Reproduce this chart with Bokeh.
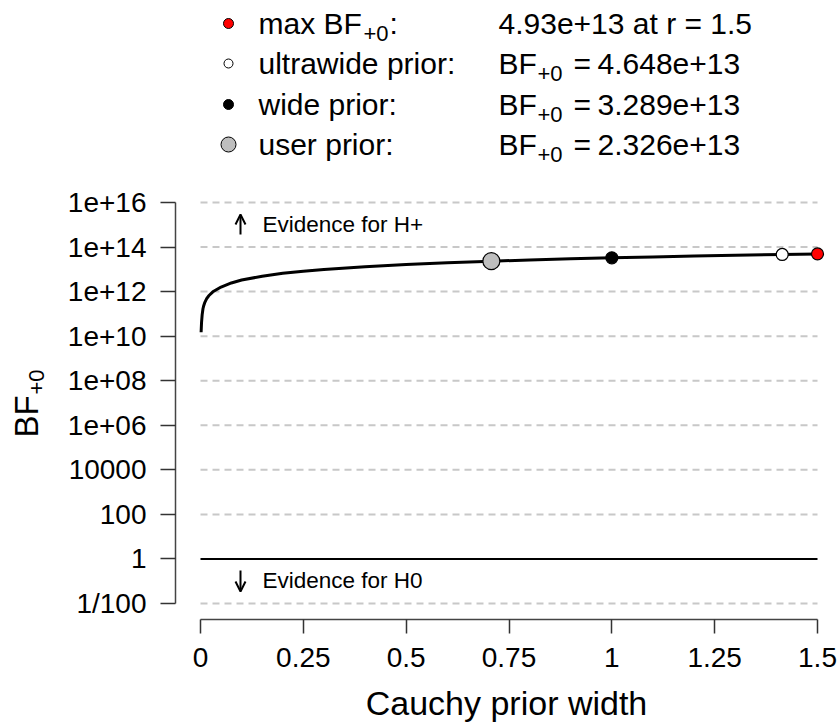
import math
from bokeh.plotting import figure
from bokeh.layouts import row
from bokeh.models import Range1d, FixedTicker, Arrow, OpenHead
from bokeh.core.properties import value
from bokeh.embed import file_html
from bokeh.resources import INLINE

# ---------------- data ----------------
r_grid = [0.0015, 0.0025, 0.004, 0.006, 0.008, 0.01, 0.015, 0.02, 0.03, 0.05,
          0.075, 0.1, 0.15, 0.2, 0.25, 0.3, 0.4, 0.5, 0.6, 0.7071, 0.8, 0.9,
          1.0, 1.1, 1.2, 1.3, 1.4142, 1.5]
bf_curve = [1.5e10, 4.0e10, 9.0e10, 1.7e11, 2.4e11, 3.1e11, 4.8e11, 6.5e11,
            9.8e11, 1.6e12, 2.45e12, 3.3e12, 4.9e12, 6.6e12, 8.2e12, 9.9e12,
            1.31e13, 1.64e13, 1.97e13, 2.326e13, 2.63e13, 2.96e13, 3.289e13,
            3.62e13, 3.95e13, 4.27e13, 4.648e13, 4.93e13]

point_names = ["max", "ultrawide prior", "wide prior", "user prior"]
point_r = [1.5, 1.4142, 1.0, 0.7071]
point_bf = [4.93e13, 4.648e13, 3.289e13, 2.326e13]
point_fill = ["red", "white", "black", "#BEBEBE"]
point_size = [12, 12, 12, 17]

legend_labels = ["max BF", "ultrawide prior:", "wide prior:", "user prior:"]
legend_values = ["4.93e+13 at r = 1.5", "4.648e+13", "3.289e+13", "2.326e+13"]

x_ticks = [0, 0.25, 0.5, 0.75, 1.0, 1.25, 1.5]
x_tick_labels = ["0", "0.25", "0.5", "0.75", "1", "1.25", "1.5"]
y_ticks = [-2, 0, 2, 4, 6, 8, 10, 12, 14, 16]
y_tick_labels = ["1/100", "1", "100", "10000", "1e+06", "1e+08", "1e+10",
                 "1e+12", "1e+14", "1e+16"]

x_title = "Cauchy prior width"
y_title = "BF"
y_title_sub = "+0"

# ---------------- layout ----------------
W, H = 837, 724
TW = 50                                # strip on the left holding the y title
left_px, right_px = 200.0, 817.0       # x = 0 and x = 1.5 (page pixels)
frame_left = 175.0
frame_bottom = 619.0
top_px, bot_px = 202.0, 603.0          # y = 16 and y = -2
xs = (right_px - left_px) / 1.5
ys = (bot_px - top_px) / 18.0


def dx(px):
    return (px - left_px) / xs


def dy(py):
    return 16 + (top_px - py) / ys


FONT = "Liberation Sans"
y_range = Range1d(dy(frame_bottom), dy(0))

# ---- strip with the rotated y-axis title (shares the y range) ----
t = figure(width=TW, height=H, x_range=Range1d(0, TW), y_range=y_range,
           output_backend="svg", toolbar_location=None,
           x_axis_type=None, y_axis_type=None,
           min_border_left=0, min_border_right=0, min_border_top=0,
           min_border_bottom=int(H - frame_bottom))
t.outline_line_color = None
t.grid.visible = False
t.text(x=[25.5], y=[dy(437)], text=[y_title], angle=math.pi / 2,
       text_font=value(FONT), text_font_size="33px", text_align="left",
       text_baseline="middle", text_color="black")
t.text(x=[36], y=[dy(394)], text=[y_title_sub], angle=math.pi / 2,
       text_font=value(FONT), text_font_size="22px", text_align="left",
       text_baseline="middle", text_color="black")

# ---- main plot ----
p = figure(width=W - TW, height=H,
           x_range=Range1d(dx(frame_left), dx(W)), y_range=y_range,
           output_backend="svg", toolbar_location=None,
           min_border_left=int(frame_left - TW), min_border_right=0,
           min_border_top=0, min_border_bottom=int(H - frame_bottom))
p.outline_line_color = None
p.grid.visible = False
p.background_fill_color = "white"
p.border_fill_color = "white"

for ax in (p.xaxis[0], p.yaxis[0]):
    ax.axis_line_color = "#444444"
    ax.axis_line_width = 1.5
    ax.major_tick_line_color = "#333333"
    ax.major_tick_line_width = 1.5
    ax.minor_tick_line_color = None
    ax.major_tick_in = 0
    ax.major_label_text_font = FONT
    ax.major_label_text_font_size = "28px"
    ax.major_label_text_color = "black"

p.xaxis.ticker = FixedTicker(ticks=x_ticks)
p.xaxis.major_label_overrides = {t_: l for t_, l in zip(x_ticks, x_tick_labels)}
p.xaxis.bounds = (0, 1.5)
p.xaxis.major_tick_out = 14
p.xaxis.major_label_standoff = 14
p.xaxis.axis_label = x_title
p.xaxis.axis_label_text_font = FONT
p.xaxis.axis_label_text_font_style = "normal"
p.xaxis.axis_label_text_font_size = "34px"
p.xaxis.axis_label_text_color = "black"
p.xaxis.axis_label_standoff = 14

p.yaxis.ticker = FixedTicker(ticks=y_ticks)
p.yaxis.major_label_overrides = {t_: l for t_, l in zip(y_ticks, y_tick_labels)}
p.yaxis.bounds = (-2, 16)
p.yaxis.major_tick_out = 15
p.yaxis.major_label_standoff = 14

# dashed grid lines and the solid line at BF = 1
grid_levels = [v for v in y_ticks if v != 0]
p.segment(x0=[0] * len(grid_levels), x1=[1.5] * len(grid_levels),
          y0=grid_levels, y1=grid_levels, line_color="#C8C8C8",
          line_width=2, line_dash="7 5")
p.segment(x0=[0], x1=[1.5], y0=[0], y1=[0], line_color="black", line_width=2)

# curve
p.line(r_grid, [math.log10(v) for v in bf_curve], line_color="black", line_width=3)

# points
p.scatter(point_r, [math.log10(v) for v in point_bf], size=point_size,
          fill_color=point_fill, line_color="black", line_width=1.2)

# evidence annotations
ax_x = dx(240)
p.add_layout(Arrow(x_start=ax_x, y_start=dy(234), x_end=ax_x, y_end=dy(214),
                   line_color="black", line_width=2,
                   end=OpenHead(size=10, line_color="black", line_width=2)))
p.add_layout(Arrow(x_start=ax_x, y_start=dy(570), x_end=ax_x, y_end=dy(591),
                   line_color="black", line_width=2,
                   end=OpenHead(size=10, line_color="black", line_width=2)))
p.text(x=[dx(262), dx(262)], y=[dy(224), dy(580)],
       text=["Evidence for H+", "Evidence for H0"],
       text_font=value(FONT), text_font_size="22.5px", text_baseline="middle",
       text_align="left", text_color="black")

# legend above the plot
row_y = [dy(r) for r in (23, 63, 104, 144)]
dot_x = dx(228)
lab_x = dx(258)
val_x = dx(498)
p.scatter([dot_x] * 4, row_y, size=[10, 9, 10, 15], fill_color=point_fill,
          line_color="black", line_width=1)

LF = "30px"
SF = "22px"
common = dict(text_font=value(FONT), text_baseline="middle", text_align="left",
              text_color="black")
p.text(x=[lab_x] * 4, y=row_y, text=legend_labels, text_font_size=LF, **common)
# subscript and colon of "max BF+0:"
p.text(x=[lab_x], y=[row_y[0]], text=["+0"], x_offset=105, y_offset=10,
       text_font_size=SF, **common)
p.text(x=[lab_x], y=[row_y[0]], text=[":"], x_offset=131,
       text_font_size=LF, **common)
# value column
p.text(x=[val_x], y=[row_y[0]], text=[legend_values[0]], text_font_size=LF,
       **common)
p.text(x=[val_x] * 3, y=row_y[1:], text=["BF"] * 3, text_font_size=LF, **common)
p.text(x=[val_x] * 3, y=row_y[1:], text=["+0"] * 3, x_offset=39, y_offset=10,
       text_font_size=SF, **common)
p.text(x=[val_x] * 3, y=row_y[1:], text=["="] * 3, x_offset=75,
       text_font_size=LF, **common)
p.text(x=[val_x] * 3, y=row_y[1:], text=legend_values[1:], x_offset=99,
       text_font_size=LF, **common)

layout = row(t, p, spacing=0)
open("out.html", "w").write(file_html(layout, INLINE))
